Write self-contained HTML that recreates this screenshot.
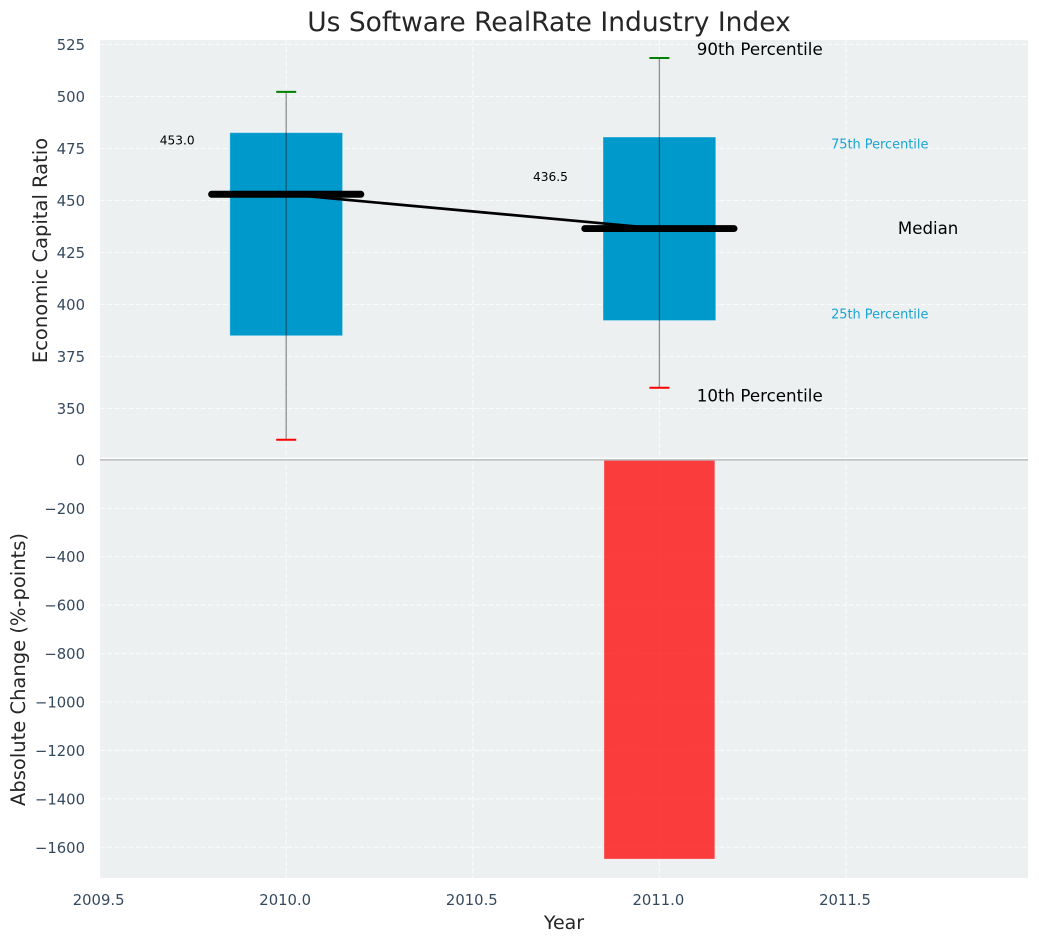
<!DOCTYPE html>
<html lang="en">
<head>
<meta charset="utf-8">
<title>Us Software RealRate Industry Index</title>
<style>
html,body{margin:0;padding:0;background:#fff;width:1039px;height:942px;overflow:hidden}
svg{display:block}
text{font-family:"DejaVu Sans","Liberation Sans",sans-serif}
</style>
</head>
<body>
<svg id="chart" xmlns="http://www.w3.org/2000/svg" width="1039" height="942" viewBox="0 0 1039 942"></svg>
<script>
const years = [2010, 2011];
const p90 = [502.2, 518.5];
const p75 = [482.6, 480.5];
const medians = [453.0, 436.5];
const p25 = [385.0, 392.3];
const p10 = [335.0, 360.0];
const absChange = [null, -1648];
const xTicks = [2009.5, 2010.0, 2010.5, 2011.0, 2011.5];
const topTicks = [525, 500, 475, 450, 425, 400, 375, 350];
const bottomTicks = [0, -200, -400, -600, -800, -1000, -1200, -1400, -1600];

const NS = 'http://www.w3.org/2000/svg';
const svg = document.getElementById('chart');
const xS = v => 286.2 + (v - 2010) * 373.2;
const yTop = v => 96.5 + (500 - v) * 2.08;
const yBot = v => 459.9 - v * 0.2421;
const L = 100, R = 1028, T = 40, M = 459.9, B = 878;

function mk(tag, attrs, txt) {
  const e = document.createElementNS(NS, tag);
  for (const k in attrs) e.setAttribute(k, attrs[k]);
  if (txt !== undefined) e.textContent = txt;
  svg.appendChild(e);
  return e;
}
let el;

el = mk('rect', {x: L, y: T, width: R - L, height: B - T, fill: '#ecf0f1'});



const gridStyle = {stroke: '#ffffff', 'stroke-width': 1.1, 'stroke-dasharray': '5,2.2', 'stroke-opacity': 0.75};

xTicks.forEach(t => {
  const x = xS(t);
  el = mk('line', Object.assign({x1: x, x2: x, y1: T, y2: B}, gridStyle));
  
  
  el = mk('text', {x: x - 1, y: 905, 'text-anchor': 'middle', 'font-size': 14.8, fill: '#34495e'}, t.toFixed(1));
  
  
});

topTicks.forEach(t => {
  const y = yTop(t);
  el = mk('line', Object.assign({x1: L, x2: R, y1: y, y2: y}, gridStyle));
  
  
  el = mk('text', {x: 85, y: y + 5.5, 'text-anchor': 'end', 'font-size': 14.8, fill: '#34495e'}, String(t));
  
  
});

bottomTicks.forEach(t => {
  const y = yBot(t);
  if (t !== 0) {
    el = mk('line', Object.assign({x1: L, x2: R, y1: y, y2: y}, gridStyle));
    
    
  }
  const label = t < 0 ? '\u2212' + Math.abs(t) : String(t);
  el = mk('text', {x: 85, y: y + 5.5, 'text-anchor': 'end', 'font-size': 14.8, fill: '#34495e'}, label);
  
  
});

years.forEach((yr, i) => {
  el = mk('rect', {x: xS(yr - 0.151), y: yTop(p75[i]), width: xS(yr + 0.151) - xS(yr - 0.151), height: yTop(p25[i]) - yTop(p75[i]), fill: '#0099cc', stroke: '#ffffff', 'stroke-opacity': 0.3, 'stroke-width': 1});
  
  
});

el = mk('polyline', {points: years.map((yr, i) => xS(yr) + ',' + yTop(medians[i])).join(' '), fill: 'none', stroke: '#000000', 'stroke-width': 2.7});



years.forEach((yr, i) => {
  const x = xS(yr);
  el = mk('line', {x1: x, x2: x, y1: yTop(p90[i]), y2: yTop(p10[i]), stroke: '#000000', 'stroke-opacity': 0.42, 'stroke-width': 1.3});
  
  

  el = mk('line', {x1: x - 10, x2: x + 10, y1: yTop(p90[i]), y2: yTop(p90[i]), stroke: '#008000', 'stroke-width': 2});
  
  

  el = mk('line', {x1: x - 10, x2: x + 10, y1: yTop(p10[i]), y2: yTop(p10[i]), stroke: '#ff0000', 'stroke-width': 2});
  
  

  el = mk('line', {x1: xS(yr - 0.2), x2: xS(yr + 0.2), y1: yTop(medians[i]), y2: yTop(medians[i]), stroke: '#000000', 'stroke-width': 6.9, 'stroke-linecap': 'round'});
  
  

  const labelRaise = i === 0 ? 26 : 25;
  el = mk('text', {x: xS(yr - 0.292), y: yTop(medians[i] + labelRaise) + 4.5, 'text-anchor': 'middle', 'font-size': 12.2, fill: '#000000'}, medians[i].toFixed(1));
  
  
});

el = mk('rect', {x: L, y: M - 2.2, width: R - L, height: 1.2, fill: '#ffffff'});



years.forEach((yr, i) => {
  if (absChange[i] === null) return;
  el = mk('rect', {x: xS(yr - 0.148), y: yBot(0), width: xS(yr + 0.148) - xS(yr - 0.148), height: yBot(absChange[i]) - yBot(0), fill: '#ff0000', 'fill-opacity': 0.75});
  
  
});

el = mk('line', {x1: L, x2: R, y1: M, y2: M, stroke: '#bdbdbd', 'stroke-width': 1.5});



const li = years.length - 1;
const lastX = years[li];

el = mk('text', {x: xS(lastX + 0.1), y: yTop(p90[li] + 4) + 5.5, 'font-size': 16.7, fill: '#000000'}, '90th Percentile');



el = mk('text', {x: xS(lastX + 0.1), y: yTop(p10[li] - 4) + 5.5, 'font-size': 16.7, fill: '#000000'}, '10th Percentile');



el = mk('text', {x: xS(lastX + 0.46), y: yTop(p75[li] - 3.5) + 4.2, 'font-size': 12.9, fill: '#1aa3d1'}, '75th Percentile');



el = mk('text', {x: xS(lastX + 0.46), y: yTop(p25[li] + 3.2) + 4.5, 'font-size': 12.9, fill: '#1aa3d1'}, '25th Percentile');



el = mk('text', {x: xS(lastX + 0.72), y: yTop(medians[li]) + 5.5, 'text-anchor': 'middle', 'font-size': 16.6, fill: '#000000'}, 'Median');



el = mk('text', {x: 549, y: 31, 'text-anchor': 'middle', 'font-size': 26.5, fill: '#262626'}, 'Us Software RealRate Industry Index');



el = mk('text', {x: 564, y: 929, 'text-anchor': 'middle', 'font-size': 19, fill: '#262626'}, 'Year');



el = mk('text', {x: 0, y: 0, transform: 'translate(47,250.5) rotate(-90)', 'text-anchor': 'middle', 'font-size': 19.5, fill: '#262626'}, 'Economic Capital Ratio');



el = mk('text', {x: 0, y: 0, transform: 'translate(25,669.5) rotate(-90)', 'text-anchor': 'middle', 'font-size': 19.5, fill: '#262626'}, 'Absolute Change (%-points)');


</script>
</body>
</html>
